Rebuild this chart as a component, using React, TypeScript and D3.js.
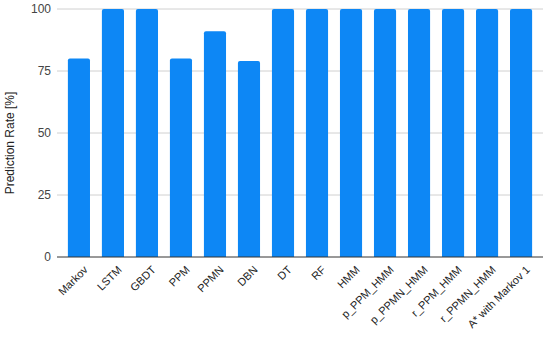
import * as d3 from "d3";

const methods = [
  "Markov", "LSTM", "GBDT", "PPM", "PPMN", "DBN", "DT", "RF", "HMM",
  "p_PPM_HMM", "p_PPMN_HMM", "r_PPM_HMM", "r_PPMN_HMM", "A* with Markov 1",
];
const predictionRate = [80, 100, 100, 80, 91, 79, 100, 100, 100, 100, 100, 100, 100, 100];
const yTicks = [0, 25, 50, 75, 100];

export default function App() {
  const width = 550;
  const height = 339;
  const margin = { top: 9, right: 7, bottom: 82, left: 57 };
  const innerW = width - margin.left - margin.right;
  const innerH = height - margin.top - margin.bottom;

  const x = d3.scaleBand<string>().domain(methods).range([0, innerW]).paddingInner(0.35).paddingOuter(0.32);
  const y = d3.scaleLinear().domain([0, 100]).range([innerH, 0]);
  const font = "Arial, 'Liberation Sans', sans-serif";

  return (
    <svg width={width} height={height} style={{ position: "absolute", left: 0, top: 0 }} fontFamily={font}>
      <rect width={width} height={height} fill="#fff" />
      <text
        transform={`translate(14, ${margin.top + innerH / 2 + 10}) rotate(-90)`}
        textAnchor="middle"
        fontSize={12}
        fill="#222"
      >
        Prediction Rate [%]
      </text>
      <g transform={`translate(${margin.left}, ${margin.top})`}>
        {yTicks.map((t) => (
          <g key={t}>
            {t !== 0 && <line x1={0} x2={innerW} y1={y(t)} y2={y(t)} stroke="#d0d0d0" strokeWidth={1} />}
            <text x={-6} y={y(t)} dy="0.35em" textAnchor="end" fontSize={12} fill="#444">
              {t}
            </text>
          </g>
        ))}
        {methods.map((m, i) => {
          const bx = x(m) ?? 0;
          const top = y(predictionRate[i]);
          const h = innerH - top;
          const w = x.bandwidth();
          const r = 2;
          const path = `M${bx},${innerH} V${top + r} Q${bx},${top} ${bx + r},${top} H${bx + w - r} Q${bx + w},${top} ${bx + w},${top + r} V${innerH} Z`;
          return <path key={m} d={path} fill="#0d87f5" />;
        })}
        <line x1={0} x2={innerW} y1={innerH} y2={innerH} stroke="#333" strokeWidth={1} />
        {methods.map((m) => {
          const cx = (x(m) ?? 0) + x.bandwidth() / 2;
          return (
            <text
              key={m}
              transform={`translate(${cx + 4}, ${innerH + 8}) rotate(-45)`}
              textAnchor="end"
              dy="0.7em"
              fontSize={11}
              fill="#222"
            >
              {m}
            </text>
          );
        })}
      </g>
    </svg>
  );
}
